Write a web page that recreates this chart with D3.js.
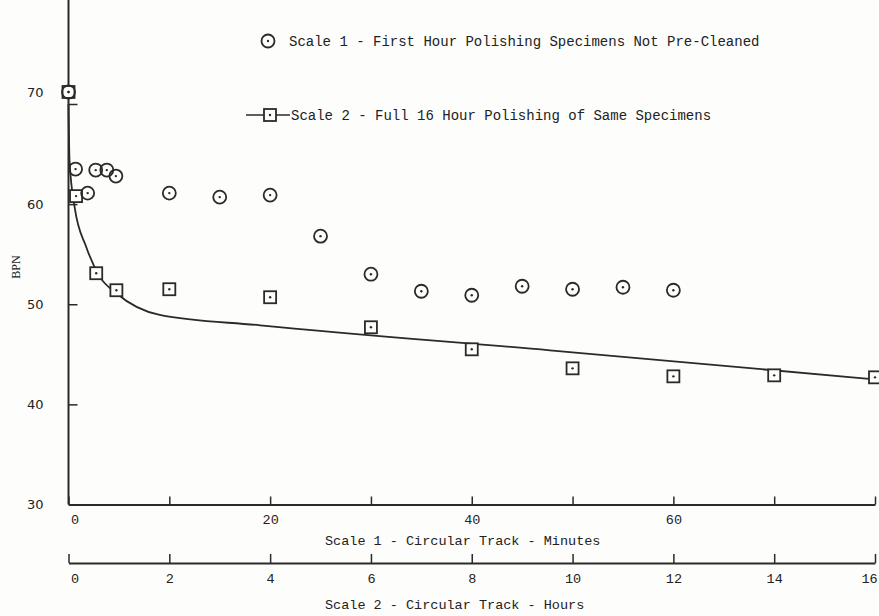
<!DOCTYPE html>
<html>
<head>
<meta charset="utf-8">
<script src="https://cdn.jsdelivr.net/npm/d3@7"></script>
<style>
  body { margin: 0; background: #fdfdfb; }
  text { font-family: "Liberation Mono", "DejaVu Sans Mono", monospace; fill: #222; }
</style>
</head>
<body>
<div id="chart"></div>
<script>
// Scale 1 - first hour polishing (minutes)
var minutes1 = [0, 0.7, 1.9, 2.7, 3.8, 4.7, 10, 15, 20, 25, 30, 35, 40, 45, 50, 55, 60]
var bpn1 = [71.2, 63.5, 61.1, 63.4, 63.4, 62.8, 61.1, 60.7, 60.9, 56.8, 53.0, 51.3, 50.9, 51.8, 51.5, 51.7, 51.4]

// Scale 2 - full 16 hour polishing (hours)
var hours2 = [0, 0.15, 0.55, 0.95, 2, 4, 6, 8, 10, 12, 14, 16]
var bpn2 = [71.2, 60.8, 53.1, 51.4, 51.5, 50.7, 47.7, 45.5, 43.6, 42.8, 42.9, 42.7]

// fitted curve for scale 2
var fitHours = [0, 0.02, 0.12, 0.35, 0.62, 0.95, 1.81, 3.8, 9.55, 16]
var fitBpn = [70.0, 64.4, 59.75, 55.75, 52.76, 51.1, 48.93, 47.9, 45.4, 42.5]

var yTicks = [30, 40, 50, 60, 70]
var minuteTicks = [0, 10, 20, 30, 40, 50, 60, 70, 80]
var minuteLabels = [0, 20, 40, 60]
var hourTicks = [0, 2, 4, 6, 8, 10, 12, 14, 16]

var legend1 = "Scale 1 - First Hour Polishing Specimens Not Pre-Cleaned"
var legend2 = "Scale 2 - Full 16 Hour Polishing of Same Specimens"
var xTitle1 = "Scale 1 - Circular Track - Minutes"
var xTitle2 = "Scale 2 - Circular Track - Hours"

var width = 879
var height = 616
var ink = "#2a2a2a"

var svg = d3.select("#chart")
            .append("svg")
            .attr("width", width)
            .attr("height", height)
            .style("display", "block")

var x1 = d3.scaleLinear().domain([0, 80]).range([68.5, 875])
var x2 = d3.scaleLinear().domain([0, 16]).range([68.5, 875])
var y = d3.scaleLinear().domain([30, 70]).range([504.5, 104])

// vertical axis line runs to the top of the page
svg.append("line")
    .attr("x1", x1(0)).attr("x2", x1(0))
    .attr("y1", y(30)).attr("y2", 0)
    .style("stroke", ink)
    .style("stroke-width", 2)

var yAxis = svg.append("g")
    .attr("transform", "translate(" + x1(0) + ",0)")
    .call(d3.axisLeft(y).tickValues(yTicks).tickSizeInner(-9).tickSizeOuter(0).tickPadding(25))
yAxis.select(".domain").remove()
yAxis.selectAll("line").style("stroke", ink).style("stroke-width", 1.5)
yAxis.selectAll("text")
    .style("font-size", "13px")
    .style("font-family", "'DejaVu Sans', sans-serif")
    .attr("dy", function(d){ return d == 70 ? "-0.55em" : "0.32em" })

svg.append("text")
    .attr("transform", "translate(16,267) rotate(-90)")
    .attr("text-anchor", "middle")
    .attr("dy", "0.35em")
    .style("font-size", "12px")
    .style("font-family", "'Liberation Serif', serif")
    .text("BPN")

function styleAxis(g){
    g.select(".domain").style("stroke", ink).style("stroke-width", 2)
    g.selectAll(".tick line").style("stroke", ink).style("stroke-width", 1.5)
    g.selectAll("text").style("font-size", "13.5px").style("fill", "#222")
        .attr("dx", function(d){ return d == 0 ? "6" : (d == 16 ? "-6" : "0") })
}

var axis1 = svg.append("g")
    .attr("transform", "translate(0," + y(30) + ")")
    .call(d3.axisBottom(x1).tickValues(minuteTicks).tickSizeInner(-8).tickSizeOuter(0).tickPadding(10)
          .tickFormat(function(d){ return minuteLabels.indexOf(d) >= 0 ? d : "" }))
styleAxis(axis1)

var axis2 = svg.append("g")
    .attr("transform", "translate(0,563)")
    .call(d3.axisBottom(x2).tickValues(hourTicks).tickSizeInner(-9).tickSizeOuter(0).tickPadding(10))
styleAxis(axis2)

svg.append("text")
    .attr("x", 325).attr("y", 540)
    .attr("dy", "0.35em")
    .style("font-size", "13.5px")
    .text(xTitle1)

svg.append("text")
    .attr("x", 325).attr("y", 604)
    .attr("dy", "0.35em")
    .style("font-size", "13.5px")
    .text(xTitle2)

// fitted line
var fitData = fitHours.map(function(h, i){ return [h, fitBpn[i]] })
var line = d3.line()
    .x(function(d){ return x2(d[0]) })
    .y(function(d){ return y(d[1]) })
    .curve(d3.curveMonotoneX)

svg.append("path")
    .datum(fitData)
    .attr("d", line)
    .style("fill", "none")
    .style("stroke", ink)
    .style("stroke-width", 1.8)

function drawSquare(g, cx, cy){
    g.append("rect")
        .attr("x", cx - 6).attr("y", cy - 6)
        .attr("width", 12).attr("height", 12)
        .style("fill", "#fdfdfb")
        .style("stroke", ink)
        .style("stroke-width", 1.8)
    g.append("circle")
        .attr("cx", cx).attr("cy", cy).attr("r", 1.2)
        .style("fill", ink)
}

function drawCircle(g, cx, cy){
    g.append("circle")
        .attr("cx", cx).attr("cy", cy).attr("r", 6.5)
        .style("fill", "none")
        .style("stroke", ink)
        .style("stroke-width", 1.8)
    g.append("circle")
        .attr("cx", cx).attr("cy", cy).attr("r", 1.2)
        .style("fill", ink)
}

var marks = svg.append("g")
for (var i = 0; i < hours2.length; i++) {
    drawSquare(marks, x2(hours2[i]), y(bpn2[i]))
}
for (var j = 0; j < minutes1.length; j++) {
    drawCircle(marks, x1(minutes1[j]), y(bpn1[j]))
}

// legend
var leg = svg.append("g")
drawCircle(leg, 268, 41)
leg.append("text")
    .attr("x", 289).attr("y", 41)
    .attr("dy", "0.35em")
    .style("font-size", "14px")
    .text(legend1)

leg.append("line")
    .attr("x1", 246).attr("x2", 290)
    .attr("y1", 115).attr("y2", 115)
    .style("stroke", ink)
    .style("stroke-width", 1.6)
drawSquare(leg, 270, 115)
leg.append("text")
    .attr("x", 291).attr("y", 115)
    .attr("dy", "0.35em")
    .style("font-size", "14px")
    .text(legend2)
</script>
</body>
</html>
